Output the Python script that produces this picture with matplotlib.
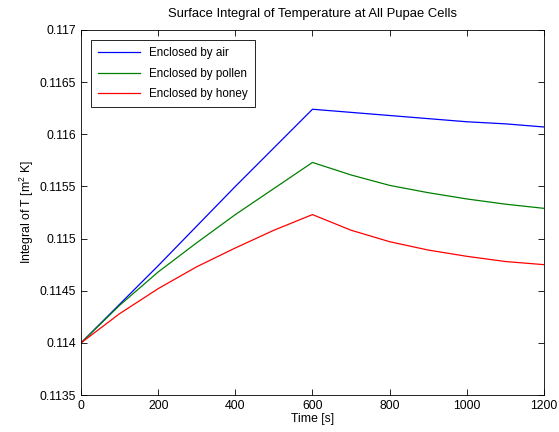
import matplotlib
matplotlib.use("Agg")
import matplotlib.pyplot as plt

plt.rcParams['font.family'] = ['Liberation Sans', 'DejaVu Sans']
plt.rcParams['mathtext.fontset'] = 'custom'
plt.rcParams['mathtext.rm'] = 'Liberation Sans'

t = [0, 100, 200, 300, 400, 500, 600, 700, 800, 900, 1000, 1100, 1200]
air = [0.11400, 0.11437, 0.11474, 0.11512, 0.11550, 0.11587, 0.11624,
       0.11621, 0.11618, 0.11615, 0.11612, 0.11610, 0.11607]
pollen = [0.11400, 0.11436, 0.11468, 0.11496, 0.11523, 0.11548, 0.11573,
          0.11561, 0.11551, 0.11544, 0.11538, 0.11533, 0.11529]
honey = [0.11400, 0.11428, 0.11452, 0.11473, 0.11491, 0.11508, 0.11523,
         0.11508, 0.11497, 0.11489, 0.11483, 0.11478, 0.11475]
labels = ['Enclosed by air', 'Enclosed by pollen', 'Enclosed by honey']

fig = plt.figure(figsize=(5.59, 4.32), dpi=100)
ax = fig.add_axes([0.145, 0.0856, 0.828, 0.845])

ax.plot(t, air, color='blue', lw=0.9, label=labels[0])
ax.plot(t, pollen, color=(0, 0.5, 0), lw=0.9, label=labels[1])
ax.plot(t, honey, color='red', lw=0.9, label=labels[2])

ax.set_xlim(0, 1200)
ax.set_ylim(0.1135, 0.117)
ax.set_xticks([0, 200, 400, 600, 800, 1000, 1200])
ax.set_yticks([0.1135, 0.114, 0.1145, 0.115, 0.1155, 0.116, 0.1165, 0.117])
ax.set_yticklabels(['0.1135', '0.114', '0.1145', '0.115', '0.1155', '0.116', '0.1165', '0.117'])
ax.tick_params(direction='in', top=True, right=True, labelsize=8.8, length=4, width=0.6)
for s in ax.spines.values():
    s.set_linewidth(0.6)

ax.set_title('Surface Integral of Temperature at All Pupae Cells', fontsize=9.4, pad=9)
ax.set_xlabel('Time [s]', fontsize=8.8, labelpad=1)
ax.set_ylabel('Integral of T [m$^2$ K]', fontsize=8.8, labelpad=3)

leg = ax.legend(loc='upper left', fontsize=8.4, fancybox=False, framealpha=1,
                edgecolor='black', borderaxespad=0.85, handlelength=3.6,
                labelspacing=0.75, borderpad=0.6)
leg.get_frame().set_linewidth(0.6)

fig.savefig('out.png', dpi=100)
